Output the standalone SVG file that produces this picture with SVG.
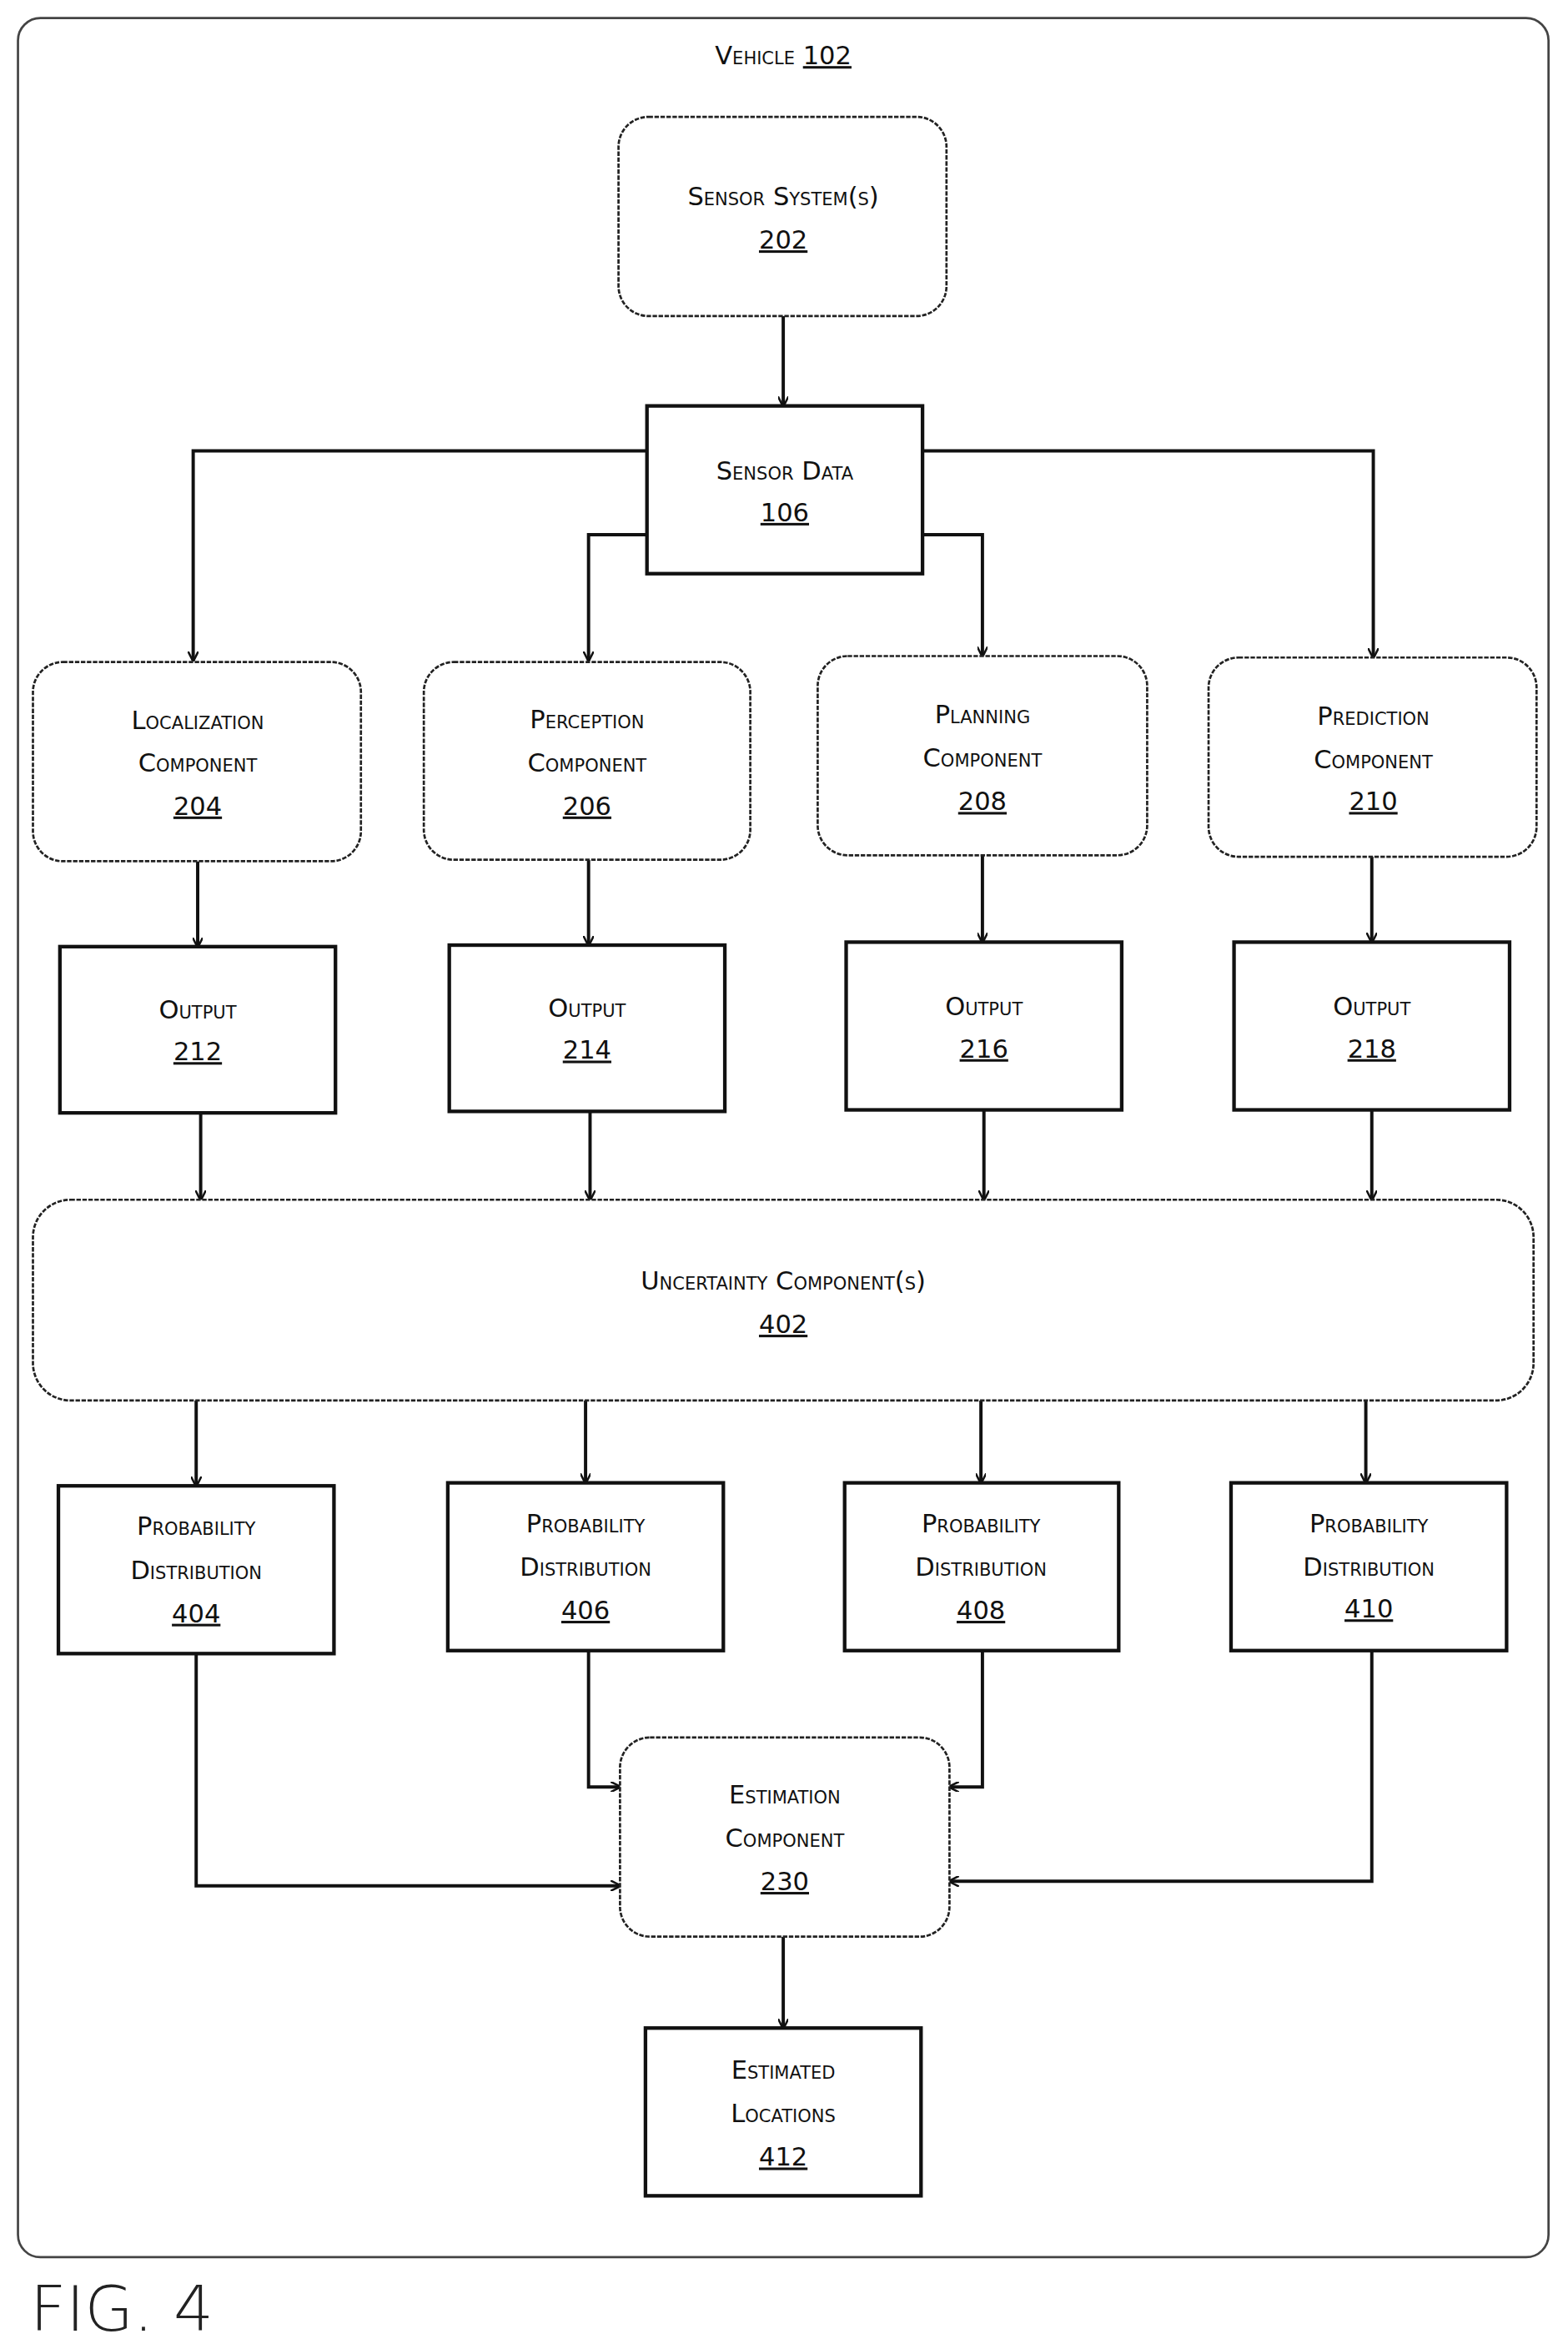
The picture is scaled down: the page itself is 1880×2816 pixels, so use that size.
<svg xmlns="http://www.w3.org/2000/svg" width="1880" height="2816" viewBox="0 0 1880 2816">
<defs>
<style>
text{font-family:"DejaVu Sans","Liberation Sans",sans-serif;font-size:17px;font-variant:small-caps;text-anchor:middle;fill:#111}
.n{text-decoration:underline}
.r{fill:#fff;stroke:#111;stroke-width:2.4}
.o{fill:#fff;stroke:#222;stroke-width:1.5;stroke-dasharray:3 1}
.c{fill:none;stroke:#111;stroke-width:2.2;marker-end:url(#a)}
</style>
<marker id="a" viewBox="0 0 10 10" refX="9" refY="5" markerWidth="7" markerHeight="7" markerUnits="userSpaceOnUse" orient="auto"><path d="M0,0 L10,5 L0,10" fill="none" stroke="#111" stroke-width="2"/></marker>
</defs>
<rect width="1880" height="2816" fill="#fff"/>
<g transform="scale(1.7956)">
<g id="vehicle"><rect x="12" y="12" width="1022" height="1495" rx="15" fill="none" stroke="#444" stroke-width="1.5"/><text x="523" y="43">Vehicle <tspan class="n">102</tspan></text></g>
<g id="connectors">
<path class="c" d="M523,211 V271"/>
<path class="c" d="M432,301 H129 V441"/>
<path class="c" d="M616,301 H917 V439"/>
<path class="c" d="M432,357 H393 V441"/>
<path class="c" d="M616,357 H656 V438"/>
<path class="c" d="M132,575 V632"/><path class="c" d="M393,574 V631"/><path class="c" d="M656,571 V629"/><path class="c" d="M916,572 V629"/>
<path class="c" d="M134,743 V801"/><path class="c" d="M394,742 V801"/><path class="c" d="M657,741 V801"/><path class="c" d="M916,741 V801"/>
<path class="c" d="M131,935 V992"/><path class="c" d="M391,935 V990"/><path class="c" d="M655,935 V990"/><path class="c" d="M912,935 V990"/>
<path class="c" d="M393,1102 V1193 H414"/>
<path class="c" d="M656,1102 V1193 H634"/>
<path class="c" d="M131,1104 V1259 H414"/>
<path class="c" d="M916,1102 V1256 H634"/>
<path class="c" d="M523,1293 V1354"/>
</g>
<g id="n202"><rect class="o" x="413" y="78" width="219" height="133" rx="20"/><text x="523" y="137">Sensor System(s)</text><text class="n" x="523" y="166">202</text></g>
<g id="n106"><rect class="r" x="432" y="271" width="184" height="112"/><text x="524" y="320">Sensor Data</text><text class="n" x="524" y="348">106</text></g>
<g id="n204"><rect class="o" x="22" y="442" width="219" height="133" rx="20"/><text x="132" y="487">Localization</text><text x="132" y="515">Component</text><text class="n" x="132" y="544">204</text></g>
<g id="n206"><rect class="o" x="283" y="442" width="218" height="132" rx="20"/><text x="392" y="486">Perception</text><text x="392" y="515">Component</text><text class="n" x="392" y="544">206</text></g>
<g id="n208"><rect class="o" x="546" y="438" width="220" height="133" rx="20"/><text x="656" y="483">Planning</text><text x="656" y="512">Component</text><text class="n" x="656" y="541">208</text></g>
<g id="n210"><rect class="o" x="807" y="439" width="219" height="133" rx="20"/><text x="917" y="484">Prediction</text><text x="917" y="513">Component</text><text class="n" x="917" y="541">210</text></g>
<g id="n212"><rect class="r" x="40" y="632" width="184" height="111"/><text x="132" y="680">Output</text><text class="n" x="132" y="708">212</text></g>
<g id="n214"><rect class="r" x="300" y="631" width="184" height="111"/><text x="392" y="679">Output</text><text class="n" x="392" y="707">214</text></g>
<g id="n216"><rect class="r" x="565" y="629" width="184" height="112"/><text x="657" y="678">Output</text><text class="n" x="657" y="706">216</text></g>
<g id="n218"><rect class="r" x="824" y="629" width="184" height="112"/><text x="916" y="678">Output</text><text class="n" x="916" y="706">218</text></g>
<g id="n402"><rect class="o" x="22" y="801" width="1002" height="134" rx="25"/><text x="523" y="861">Uncertainty Component(s)</text><text class="n" x="523" y="890">402</text></g>
<g id="n404"><rect class="r" x="39" y="992" width="184" height="112"/><text x="131" y="1025">Probability</text><text x="131" y="1054">Distribution</text><text class="n" x="131" y="1083">404</text></g>
<g id="n406"><rect class="r" x="299" y="990" width="184" height="112"/><text x="391" y="1023">Probability</text><text x="391" y="1052">Distribution</text><text class="n" x="391" y="1081">406</text></g>
<g id="n408"><rect class="r" x="564" y="990" width="183" height="112"/><text x="655" y="1023">Probability</text><text x="655" y="1052">Distribution</text><text class="n" x="655" y="1081">408</text></g>
<g id="n410"><rect class="r" x="822" y="990" width="184" height="112"/><text x="914" y="1023">Probability</text><text x="914" y="1052">Distribution</text><text class="n" x="914" y="1080">410</text></g>
<g id="n230"><rect class="o" x="414" y="1160" width="220" height="133" rx="20"/><text x="524" y="1204">Estimation</text><text x="524" y="1233">Component</text><text class="n" x="524" y="1262">230</text></g>
<g id="n412"><rect class="r" x="431" y="1354" width="184" height="112"/><text x="523" y="1388">Estimated</text><text x="523" y="1417">Locations</text><text class="n" x="523" y="1446">412</text></g>
<text x="20" y="1556" style="font-size:42px;font-variant:normal;text-anchor:start;font-weight:300;fill:#222">FIG. 4</text>
</g>
</svg>
